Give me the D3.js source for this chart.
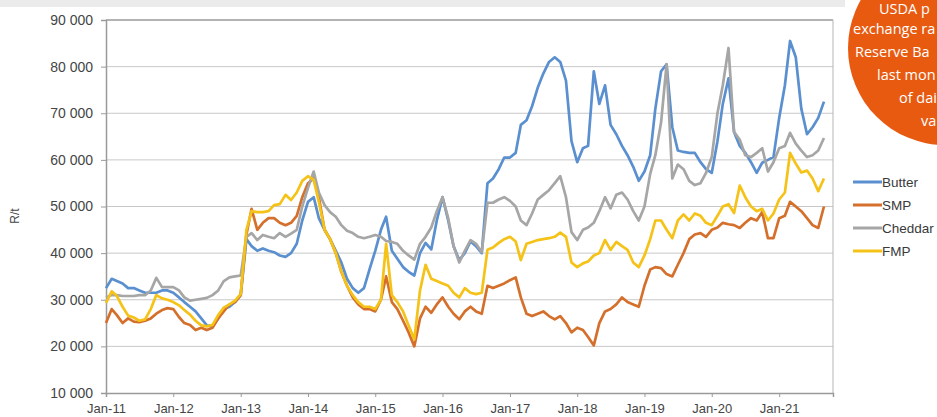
<!DOCTYPE html>
<html lang="en">
<head>
<meta charset="UTF-8">
<title>Dairy product prices</title>
<script src="https://cdn.jsdelivr.net/npm/d3@7"></script>
<style>
  body { margin: 0; background: #fff; }
  svg { display: block; }
</style>
</head>
<body>
<div id="chart"></div>
<script>
// monthly prices, R/t in thousands, Jan-11 .. Sep-21
var butter = [
  32.5,34.5,34,33.5,32.5,32.5,32,31.5,31.5,31.5,32,32,
  31.5,30.5,29.5,28.5,27.5,26,24.5,24.3,26,28,28.5,29.5,
  31,43,41.5,40.5,41,40.5,40.2,39.5,39.2,40,42,47,
  51,52,47.5,45,43,40.5,38,34.5,32.5,31.5,32.5,36.5,
  40.5,45,47.8,40.5,38.8,37,36,35.2,40,42.2,40.8,47,
  52,47,41.5,38.5,40,42.5,41.5,40,55,56,58,60.5,
  60.5,61.5,67.5,68.5,71.5,75.5,78.5,81,82,81,77,64,
  59.5,62.5,63,79,72,76,67.5,65.5,63,61,58.5,55.5,
  57.5,61,71,79,80.5,67,62,61.7,61.5,61.5,59.5,58,
  57.2,64,72,77.5,66,63,61.5,59.5,57.2,59.4,60,60.6,
  69,76,85.5,82,71,65.5,67,69,72.5
];
var smp = [
  25,28,26.7,25,26,25.3,25.2,25.5,26,27,27.8,28.2,
  28,26.3,25,24.6,23.5,24,23.5,24,26,27.5,29,29.5,
  31,44,49.5,45,46.5,47.5,47.5,46.5,46,46.5,48,52,
  55,56,52,45,43,40,36,33,30.5,29,28,28,
  27.5,30,35,29.5,28,25.5,23,20,26,28.5,27.2,29,
  30.5,28.5,27,25.8,27.5,28.5,27.5,27,33,32.5,33,33.5,
  34.2,34.8,30.5,27,26.5,27,27.5,26.5,25.8,26.5,25,23,
  24,23.5,22,20.2,25,27.5,28,29,30.5,29.5,29,28.5,
  33,36.5,37,36.8,35.5,35,37.5,40,43,44,44.3,43.5,
  45,45.5,46.5,46.2,46,45.4,46.5,47.5,47,48.8,43.2,43.2,
  47.5,48,51,50,49,47.5,46,45.4,50
];
var cheddar = [
  30.5,31,31,30.8,30.8,30.8,31,31,32,34.7,32.7,32.7,
  32.7,32,30.5,29.8,30,30.2,30.4,31,32,34,34.8,35,
  35.2,43.5,44.3,42.8,43.9,43.5,43.2,44.3,43.5,44.2,45,50,
  54,57.5,53,50.3,48.8,47.8,46,44.8,44.3,43.5,43.2,43.5,
  43.9,43.5,42.6,42.4,42,40.5,39.5,38.6,42,43.5,45.5,49,
  52,47.5,41.5,38,40.5,42.8,42,40.2,50.8,50.8,51.5,52,
  51.2,50,47,46,48.5,51.5,52.5,53.5,55,56.5,52,44.5,
  42.8,45,45.5,46.5,49,52,49.6,52.5,53,51.5,49,47,
  50,57,61,68,80.5,56,59,58,55.5,54.6,55,57.2,
  60.6,70,76,84,66,64.3,61,60.6,61.5,62.5,57.5,59.5,
  62.5,63,65.8,63.5,62,60.6,61,62,64.7
];
var fmp = [
  29.3,31.8,30.8,28.5,26.6,26.2,25.5,25.8,28,31,30.3,30,
  29.5,28.8,27.8,26.8,25.5,24.5,24.3,24.6,26.7,28.3,29,29.8,
  31.2,45,49,48.8,48.8,49,50.3,50.5,52.5,51.4,53,55.5,
  56.5,55.7,51,45,43,40,36,33,31,29.5,28.5,28.5,
  28,30,42,31,29.5,27.5,24.5,21.5,32,37.5,34.5,34,
  33.5,33,31.5,30.5,32.5,31.5,31.2,31.5,40.7,41.2,42.2,43,
  43.5,42.5,38.5,42,42.4,42.8,43,43.2,43.5,44.4,43.5,38,
  37,37.8,38.2,39.5,40,42.8,40.7,42.4,41.5,40.7,38,37,
  39.5,43,47,47,45,43.2,47,48.3,47,48.5,48,46.5,
  46,48,50,50.5,48.6,54.5,52,50,49,49.5,47,48.5,
  51.5,53,61.5,59.2,57.3,57.7,56,53.3,56
];
var seriesNames = ["Butter", "SMP", "Cheddar", "FMP"];
var seriesColors = ["#5a8fd0", "#d4702c", "#a6a6a6", "#f5c218"];
var yTicks = [10000, 20000, 30000, 40000, 50000, 60000, 70000, 80000, 90000];
// only the part of the note that shows inside the page
var noteLines = ["USDA p", "exchange ra", "Reserve Ba", "last mon", "of dai", "va"];

var width = 937, height = 417;
var svg = d3.select("#chart").append("svg")
    .attr("width", width)
    .attr("height", height);

// grey strip at the top of the page
svg.append("rect")
    .attr("x", 0).attr("y", 0)
    .attr("width", 845).attr("height", 7)
    .attr("fill", "#ebebeb");

var months = d3.range(butter.length).map(function(i) { return new Date(2011, i, 1); });

var x = d3.scaleTime()
    .domain([new Date(2011, 0, 1), new Date(2021, 9, 20)])
    .range([106, 833]);
var y = d3.scaleLinear()
    .domain([10000, 90000])
    .range([393, 20]);

var fmt = function(v) { return d3.format(",")(v).replace(",", " "); };

// gridlines
svg.append("g")
    .selectAll("line")
    .data(yTicks.slice(1, -1))
    .enter().append("line")
    .attr("x1", 106).attr("x2", 833)
    .attr("y1", function(d) { return y(d); })
    .attr("y2", function(d) { return y(d); })
    .attr("stroke", "#c8c8c8")
    .attr("stroke-width", 1);

// frame: top and right
svg.append("line")
    .attr("x1", 106).attr("x2", 833)
    .attr("y1", y(90000)).attr("y2", y(90000))
    .attr("stroke", "#9a9a9a").attr("stroke-width", 1.5);
svg.append("line")
    .attr("x1", 833).attr("x2", 833)
    .attr("y1", y(90000)).attr("y2", y(10000))
    .attr("stroke", "#b5b5b5").attr("stroke-width", 1);

// y axis
var yAxis = svg.append("g")
    .attr("transform", "translate(106,0)")
    .call(d3.axisLeft(y).tickValues(yTicks).tickFormat(fmt).tickSize(5).tickPadding(8));
yAxis.select(".domain").attr("stroke", "#9a9a9a").attr("stroke-width", 1.5);
yAxis.selectAll(".tick line").attr("stroke", "#9a9a9a");
yAxis.selectAll("text")
    .attr("fill", "#454545")
    .style("font-family", "Liberation Sans, Arial, sans-serif")
    .style("font-size", "14px");

// x axis
var xAxis = svg.append("g")
    .attr("transform", "translate(0," + y(10000) + ")")
    .call(d3.axisBottom(x).ticks(d3.timeYear.every(1)).tickFormat(d3.timeFormat("%b-%y")).tickSize(4).tickPadding(7));
xAxis.select(".domain").attr("stroke", "#9a9a9a").attr("stroke-width", 1.5);
xAxis.selectAll(".tick line").attr("stroke", "#9a9a9a");
xAxis.selectAll("text")
    .attr("fill", "#454545")
    .style("font-family", "Liberation Sans, Arial, sans-serif")
    .style("font-size", "13px");

svg.append("text")
    .attr("transform", "translate(19,216) rotate(-90)")
    .attr("text-anchor", "middle")
    .attr("fill", "#454545")
    .style("font-family", "Liberation Sans, Arial, sans-serif")
    .style("font-size", "12px")
    .text("R/t");

// series
var allSeries = [butter, smp, cheddar, fmp];
var line = d3.line()
    .x(function(d, i) { return x(months[i]); })
    .y(function(d) { return y(d * 1000); });

svg.append("g")
    .selectAll("path")
    .data(allSeries)
    .enter().append("path")
    .attr("d", line)
    .attr("fill", "none")
    .attr("stroke", function(d, i) { return seriesColors[i]; })
    .attr("stroke-width", 2.7)
    .attr("stroke-linejoin", "round");

// legend
var legend = svg.append("g")
    .selectAll("g")
    .data(seriesNames)
    .enter().append("g")
    .attr("transform", function(d, i) { return "translate(853," + (182 + i * 23) + ")"; });
legend.append("line")
    .attr("x1", 0).attr("x2", 29)
    .attr("stroke", function(d, i) { return seriesColors[i]; })
    .attr("stroke-width", 3);
legend.append("text")
    .attr("x", 29).attr("dy", "0.35em")
    .attr("fill", "#3a3a3a")
    .style("font-family", "Liberation Sans, Arial, sans-serif")
    .style("font-size", "13.5px")
    .text(function(d) { return d; });

// orange note bubble, cut by the page edge
svg.append("circle")
    .attr("cx", 945).attr("cy", 48).attr("r", 97)
    .attr("fill", "#e85a10");
var noteX = [879, 853, 855, 877, 899, 921];
var noteY = [14, 34, 57, 80, 103, 126];
svg.append("g")
    .selectAll("text")
    .data(noteLines)
    .enter().append("text")
    .attr("x", function(d, i) { return noteX[i]; })
    .attr("y", function(d, i) { return noteY[i]; })
    .attr("fill", "#fff")
    .style("font-family", "Open Sans, sans-serif")
    .style("font-size", "14.5px")
    .text(function(d) { return d; });
</script>
</body>
</html>
